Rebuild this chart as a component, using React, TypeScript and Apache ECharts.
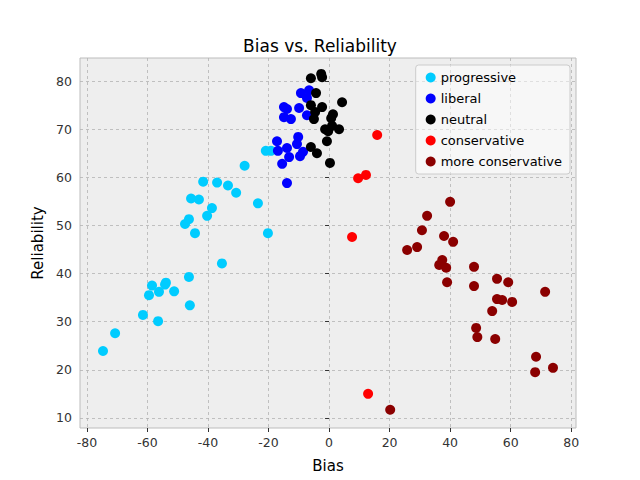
import { useRef, useEffect } from "react";
import * as echarts from "echarts";

const progressive: number[][] = [
  [-74.7, 23.9], [-70.7, 27.6], [-61.5, 31.4], [-56.5, 30.1], [-59.5, 35.5], [-58.5, 37.5],
  [-56.2, 36.2], [-53.9, 38.1], [-54.2, 37.7], [-51.2, 36.3], [-46.3, 39.3], [-46, 33.4],
  [-35.4, 42.1], [-20.2, 48.4], [-47.6, 50.3], [-46.3, 51.3], [-44.3, 48.4], [-40.3, 52.0],
  [-38.7, 53.6], [-45.6, 55.6], [-43, 55.4], [-41.6, 59.1], [-37, 58.9], [-33.4, 58.3],
  [-30.7, 56.8], [-23.5, 54.6], [-27.9, 62.4], [-20.9, 65.5], [-19.2, 65.5],
];
const liberal: number[][] = [
  [-9.3, 77.5], [-6.6, 78.1], [-7.3, 76.5], [-14.9, 74.6], [-13.9, 74.2], [-9.9, 74.4],
  [-7.3, 72.9], [-14.9, 72.5], [-12.6, 72.1], [-17.2, 67.5], [-10.2, 68.4], [-16.9, 65.5],
  [-13.9, 66.1], [-10.6, 66.9], [-13.2, 64.2], [-8.6, 65.3], [-9.6, 64.4], [-15.5, 62.8],
  [-13.9, 58.8],
];
const neutral: number[][] = [
  [-6, 80.6], [-2.6, 81.5], [-2.3, 80.8], [-4.3, 77.5], [-6, 75], [-2.3, 74.6], [4.3, 75.6],
  [-4.6, 73.6], [-5, 72.1], [1.3, 73.1], [0.7, 72.3], [-1.3, 70], [1, 70.7], [3.3, 70],
  [-0.3, 69.6], [-0.7, 67.5], [-6, 66.3], [-4, 65], [0.3, 63],
];
const conservative: number[][] = [
  [9.6, 59.8], [12.2, 60.5], [15.9, 68.8], [7.6, 47.6], [12.9, 15.0],
];
const moreConservative: number[][] = [
  [20.2, 11.7], [25.8, 44.9], [29.1, 45.5], [30.7, 49], [32.4, 52], [40, 54.9], [41, 46.6],
  [38, 47.8], [36.4, 41.8], [37.4, 42.8], [38.7, 41.2], [39, 38.2], [47.9, 41.4], [47.9, 37.4],
  [48.6, 28.7], [49, 26.8], [53.9, 32.2], [55.5, 34.7], [57.2, 34.5], [55.5, 38.9], [59.2, 38.2],
  [60.5, 34.1], [54.9, 26.4], [71.4, 36.2], [68.4, 22.7], [68.1, 19.5], [74, 20.4],
];
const xTicks = [-80, -60, -40, -20, 0, 20, 40, 60, 80];
const yTicks = [10, 20, 30, 40, 50, 60, 70, 80];

const groups: [string, number[][], string][] = [
  ["progressive", progressive, "#00ccff"],
  ["liberal", liberal, "#0000ff"],
  ["neutral", neutral, "#000000"],
  ["conservative", conservative, "#ff0000"],
  ["more conservative", moreConservative, "#8b0000"],
];

const FONT = "DejaVu Sans";

export default function App() {
  const chartRef = useRef<HTMLDivElement>(null);
  useEffect(() => {
    if (!chartRef.current) return;
    document.body.style.margin = "0";
    const chart = echarts.init(chartRef.current, null, { renderer: "svg" });
    const gridLine = { show: true, lineStyle: { color: "#b2b2b2", type: [3, 3] as any, width: 0.8 } };
    const axisCommon = {
      axisLine: { show: false },
      axisTick: { show: true, length: 4, lineStyle: { color: "#333" } },
      axisLabel: { color: "#333", fontSize: 12.5, fontFamily: FONT },
      nameTextStyle: { color: "#000", fontSize: 15, fontFamily: FONT },
      splitLine: gridLine,
    };
    chart.setOption({
      animation: false,
      backgroundColor: "#ffffff",
      textStyle: { fontFamily: FONT },
      title: {
        text: "Bias vs. Reliability", left: "center", top: 32,
        textStyle: { fontSize: 17, fontWeight: "normal", color: "#000", fontFamily: FONT },
      },
      grid: {
        left: 80, right: 64, top: 58, bottom: 52, show: true,
        backgroundColor: "#eeeeee", borderColor: "#bcbcbc", borderWidth: 1,
      },
      legend: {
        orient: "vertical", right: 70, top: 65, itemGap: 8,
        icon: "circle", itemWidth: 10, itemHeight: 10,
        backgroundColor: "rgba(255,255,255,0.5)", borderColor: "#cccccc", borderWidth: 1,
        borderRadius: 3, padding: [6, 8, 6, 10],
        textStyle: { fontSize: 13, color: "#000", fontFamily: FONT },
        data: groups.map((g) => g[0]),
      },
      xAxis: {
        ...axisCommon, type: "value", min: -82.3, max: 81.6,
        name: "Bias", nameLocation: "middle", nameGap: 30,
        axisTick: { ...axisCommon.axisTick, customValues: xTicks },
        axisLabel: { ...axisCommon.axisLabel, customValues: xTicks },
      },
      yAxis: {
        ...axisCommon, type: "value", min: 7.9, max: 84.8,
        name: "Reliability", nameLocation: "middle", nameGap: 32,
        axisTick: { ...axisCommon.axisTick, customValues: yTicks },
        axisLabel: { ...axisCommon.axisLabel, customValues: yTicks },
      },
      series: groups.map(([name, data, color]) => ({
        name, type: "scatter", data, symbolSize: 10,
        itemStyle: { color, opacity: 1 },
      })),
    });
    return () => chart.dispose();
  }, []);
  return <div ref={chartRef} style={{ width: 640, height: 480 }} />;
}
